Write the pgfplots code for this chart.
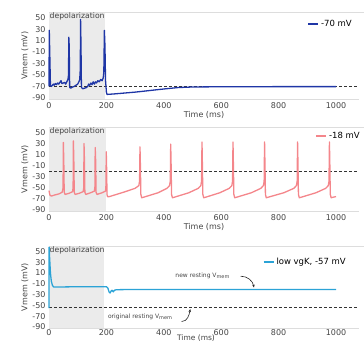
\documentclass[border=0pt]{standalone}
\usepackage{pgfplots}
\pgfplotsset{compat=1.18}
\usepackage{fontspec}
\setmainfont{DejaVu Sans}
\usetikzlibrary{arrows.meta}
\definecolor{c1}{HTML}{1F36A6}
\definecolor{c2}{HTML}{F4868B}
\definecolor{c3}{HTML}{2BA3D6}
\definecolor{shadecol}{HTML}{EBEBEB}
\definecolor{txt}{HTML}{444444}
\definecolor{framecol}{HTML}{DDDDDD}
\tikzset{
  frameL/.style={draw=framecol, line width=0.6pt},
  trace/.style={line width=1.3pt, line join=round},
  dashref/.style={black!80, line width=0.7pt, dash pattern=on 3pt off 2pt},
}
\pgfplotsset{
  panel/.style={
    scale only axis, width=310pt, xmin=0, xmax=1080, ymin=-92, ymax=60,
    anchor=south west,
    axis line style={draw=none},
    major tick length=0pt,
    xtick={0,200,...,1000}, ytick={-90,-70,...,50},
    tick label style={font=\fontsize{8}{9}\selectfont, text=txt},
    /pgf/number format/assume math mode=true,
    /pgf/number format/1000 sep={},
    xlabel={Time (ms)}, ylabel={Vmem (mV)},
    label style={font=\fontsize{8}{9}\selectfont, text=txt},
    xlabel style={yshift=4pt},
    ylabel style={yshift=-3pt},
    legend style={draw=none, fill=none, font=\fontsize{8.5}{9}\selectfont, anchor=north east, inner sep=0pt, cells={anchor=west}},
    legend image code/.code={\draw[#1, line width=1.6pt] (0pt,0pt) -- (10pt,0pt);},
    clip=false,
  },
}
\begin{document}
\begin{tikzpicture}
\useasboundingbox (0,0) rectangle (364pt,349pt);
% ---------- Panel 1 ----------
\begin{axis}[panel, at={(49pt,250pt)}, height=87pt,
  legend style={at={(rel axis cs:1,1)}, xshift=-5pt, yshift=-6pt}]
\fill[shadecol] (axis cs:0,-92) rectangle (axis cs:195,60);
\draw[frameL] (rel axis cs:0,1) -- (rel axis cs:1.02,1);
\draw[frameL] (rel axis cs:0,0) -- (rel axis cs:1,0);
\node[anchor=north west, inner sep=0.5pt, font=\fontsize{7.7}{8}\selectfont, text=txt] at (rel axis cs:0,1) {depolarization};
\addplot[dashref, forget plot] coordinates {(0,-70)(1080,-70)};
\addplot[trace, c1] coordinates {
(0,-70)(1,28)(3,-20)(5,-68)(8,-70)(12,-68)(15,-66)(18,-68)(22,-65)(26,-67)(30,-64)(34,-66)(38,-63)(42,-60)(45,-65)(50,-64)(55,-63)(58,-66)(62,-62)(66,-58)(68,-50)(69,16)(70.5,0)(72,-72)(76,-73)(82,-71)(88,-70)(94,-68)(100,-66)(104,-62)(107,-58)(109,-40)(110,47)(111.5,0)(113,-72)(118,-74)(124,-73)(130,-72)(135,-70)(138,-66)(142,-68)(146,-64)(150,-67)(154,-62)(158,-66)(162,-62)(166,-64)(170,-60)(175,-62)(180,-58)(185,-60)(189,-55)(191,-45)(193,28)(195,0)(197,-60)(200,-80)(202,-84)(230,-83)(300,-80)(400,-74.5)(450,-72)(500,-71)(600,-70.6)(800,-70.4)(1000,-70.4)};
\addlegendentry{-70 mV}
\end{axis}
% ---------- Panel 2 ----------
\begin{axis}[panel, at={(49pt,138pt)}, height=84pt,
  legend style={at={(rel axis cs:1,1)}, xshift=3pt, yshift=-3pt}]
\fill[shadecol] (axis cs:0,-92) rectangle (axis cs:198,60);
\draw[frameL] (rel axis cs:0,1) -- (rel axis cs:1.02,1);
\draw[frameL] (rel axis cs:0,0) -- (rel axis cs:1,0);
\node[anchor=north west, inner sep=0.5pt, font=\fontsize{7.7}{8}\selectfont, text=txt] at (rel axis cs:0,1) {depolarization};
\addplot[dashref, forget plot] coordinates {(0,-21)(1080,-21)};
\addplot[trace, c2] coordinates {
(0,-55)(3,-63)(8,-65)(20,-63)(35,-61)(46,-58)(49,-50)(50,32)(51.5,0)(53,-58)(56,-62)(70,-60)(82,-57)(84,-50)(85,35)(86.5,0)(88,-58)(91,-62)(105,-60)(119,-57)(121,-50)(122,30)(123.5,0)(125,-58)(128,-62)(145,-59)(158,-56)(160,-48)(161,23)(162.5,0)(164,-58)(167,-62)(185,-59)(197,-56)(198.5,-45)(199.5,15)(201,-20)(202,-62)(204,-66)(210,-66)
(260,-58)(300,-51)(313,-46)(315.5,-38)(317,24)(318.5,-10)(320,-62)(323,-68)(330,-67)
(380,-59)(411,-51)(420,-46)(422.5,-38)(424,29)(425.5,-10)(427,-62)(430,-68)(437,-67)
(487,-59)(520,-51)(529,-46)(531.5,-38)(533,33)(534.5,-10)(536,-62)(539,-68)(546,-67)
(595,-59)(628,-51)(637,-46)(639.5,-38)(641,33)(642.5,-10)(644,-62)(647,-68)(654,-67)
(705,-59)(738,-51)(747,-46)(749.5,-38)(751,33)(752.5,-10)(754,-62)(757,-68)(764,-67)
(818,-59)(853,-51)(862,-46)(864.5,-38)(866,33)(867.5,-10)(869,-62)(872,-68)(879,-67)
(930,-59)(964,-51)(973,-46)(975.5,-38)(977,33)(978.5,-10)(980,-62)(983,-68)(990,-67)(1000,-66)};
\addlegendentry{-18 mV}
\end{axis}
% ---------- Panel 3 ----------
\begin{axis}[panel, at={(49pt,21pt)}, height=82pt,
  xticklabel style={inner sep=1pt},
  xlabel style={yshift=-2pt, xshift=-8pt, inner sep=0.5pt, font=\fontsize{7.5}{8}\selectfont},
  legend style={at={(rel axis cs:1,1)}, xshift=-11pt, yshift=-10pt}]
\fill[shadecol] (axis cs:0,-92) rectangle (axis cs:192,60);
\draw[frameL] (rel axis cs:0,1) -- (rel axis cs:1.02,1);
\draw[frameL] (rel axis cs:0,0) -- (rel axis cs:1,0);
\node[anchor=north west, inner sep=0.5pt, font=\fontsize{7.7}{8}\selectfont, text=txt] at (rel axis cs:0,1) {depolarization};
\addplot[dashref, forget plot] coordinates {(0,-54)(1080,-54)};
\addplot[trace, c3] coordinates {
(0,-55)(0.5,58)(2,40)(5,10)(8,-5)(12,-13)(16,-16)(30,-16)(100,-15.5)(200,-15.5)(205,-18)(210,-26)(213,-27)(217,-23)(220,-22)(224,-25)(228,-22)(235,-21)(300,-20.5)(1000,-20.5)};
\addlegendentry{low vgK, -57 mV}
\node[anchor=base west, inner sep=0pt, font=\fontsize{6}{7}\selectfont, text=txt] at (axis cs:440,2) {new resting V\textsubscript{mem}};
\draw[-{Stealth[length=3pt,width=2.5pt]}, black!85, line width=0.6pt] (axis cs:668,4) to[out=0,in=100] (axis cs:714,-17);
\node[anchor=base west, inner sep=0pt, font=\fontsize{6}{7}\selectfont, text=txt] at (axis cs:205,-74) {original resting V\textsubscript{mem}};
\draw[-{Stealth[length=3pt,width=2.5pt]}, black!85, line width=0.6pt] (axis cs:462,-80) to[out=0,in=-100] (axis cs:492,-57);
\end{axis}
\end{tikzpicture}
\end{document}
